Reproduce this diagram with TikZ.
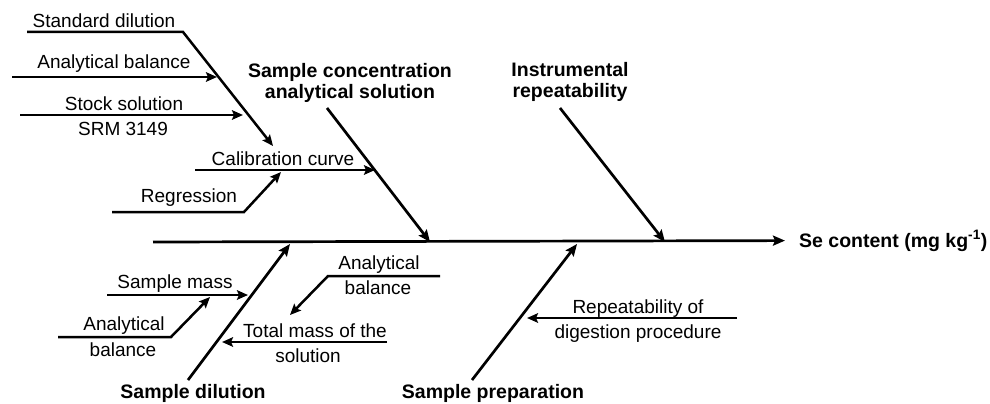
\documentclass[tikz,border=0pt]{standalone}
\usepackage{fontspec}
\setmainfont{Liberation Sans}
\usetikzlibrary{arrows.meta}
\tikzset{%
	cause/.style    = {inner sep=0pt, font=\fontsize{19}{22}\selectfont},
	effect/.style   = {inner sep=0pt, align=center,
		font=\fontsize{19.5}{21}\selectfont\bfseries}, % main causes
	bone/.style     = {line width=2.7pt, -{Stealth[length=12pt,width=10pt,inset=2pt]}},
	twig/.style     = {line width=2.5pt, -{Stealth[length=11pt,width=9.5pt,inset=2pt]}}
}

\begin{document}
\begin{tikzpicture}[x=1pt,y=-1pt]
	\useasboundingbox (0,0) rectangle (990,404);

	% main causes and effect
	\node[effect] (conc) at (350,83) {Sample concentration\\analytical solution};
	\node[effect] (instr) at (570,82) {Instrumental\\repeatability};
	\node[effect, anchor=base] (dil) at (193,398) {Sample dilution};
	\node[effect, anchor=base] (prep) at (493,398) {Sample preparation};
	\node[effect, anchor=base west] (se) at (799,247) {Se content (mg kg\textsuperscript{-1})};

	% sub causes
	\node[cause, anchor=base] (sdil) at (104,28) {Standard dilution};
	\node[cause, anchor=base] (abal) at (114,68) {Analytical balance};
	\node[cause, anchor=base] (stockA) at (124,110) {Stock solution};
	\node[cause, anchor=base] (stockB) at (123,135) {SRM 3149};
	\node[cause, anchor=base] (calib) at (283,165) {Calibration curve};
	\node[cause, anchor=base] (regr) at (189,202) {Regression};
	\node[cause, anchor=base] (smass) at (175,288) {Sample mass};
	\node[cause, anchor=base] (balA) at (124,330) {Analytical};
	\node[cause, anchor=base] (balB) at (123,356) {balance};
	\node[cause, anchor=base] (tmassA) at (315,337) {Total mass of the};
	\node[cause, anchor=base] (tmassB) at (308,362) {solution};
	\node[cause, anchor=base] (bal2A) at (379,269) {Analytical};
	\node[cause, anchor=base] (bal2B) at (378,294) {balance};
	\node[cause, anchor=base] (repA) at (638,313) {Repeatability of};
	\node[cause, anchor=base] (repB) at (638,338) {digestion procedure};

	% spine and bones
	\coordinate (tail) at (153,242);
	\coordinate (concS) at (327,108);  \coordinate (concE) at (430,242);
	\coordinate (instrS) at (560,108); \coordinate (instrE) at (665,242);
	\coordinate (dilS) at (188,380);   \coordinate (dilE) at (290,244);
	\coordinate (prepS) at (472,380);  \coordinate (prepE) at (577,244);
	\draw[bone] (tail) -- ([xshift=-14pt]se.west);
	\draw[bone] (concS) -- (concE);
	\draw[bone] (instrS) -- (instrE);
	\draw[bone] (dilS) -- (dilE);
	\draw[bone] (prepS) -- (prepE);

	% twigs
	\coordinate (sd0) at (27,32);   \coordinate (sd1) at (183,32);  \coordinate (sd2) at (273,146);
	\coordinate (ab0) at (12,77);   \coordinate (ab1) at (217,77);
	\coordinate (st0) at (20,115);  \coordinate (st1) at (243,115);
	\coordinate (cc0) at (195,170); \coordinate (cc1) at (375,170);
	\coordinate (rg0) at (112,212); \coordinate (rg1) at (244,212); \coordinate (rg2) at (281,172);
	\coordinate (sm0) at (107,295); \coordinate (sm1) at (248,295);
	\coordinate (ba0) at (58,337);  \coordinate (ba1) at (171,337); \coordinate (ba2) at (210,297);
	\coordinate (tm0) at (387,342); \coordinate (tm1) at (222,342);
	\coordinate (bb0) at (440,276); \coordinate (bb1) at (328,276); \coordinate (bb2) at (290,315);
	\coordinate (rp0) at (737,318); \coordinate (rp1) at (527,318);
	\draw[twig] (sd0) -- (sd1) -- (sd2);
	\draw[twig] (ab0) -- (ab1);
	\draw[twig] (st0) -- (st1);
	\draw[twig] (cc0) -- (cc1);
	\draw[twig] (rg0) -- (rg1) -- (rg2);
	\draw[twig] (sm0) -- (sm1);
	\draw[twig] (ba0) -- (ba1) -- (ba2);
	\draw[twig] (tm0) -- (tm1);
	\draw[twig] (bb0) -- (bb1) -- (bb2);
	\draw[twig] (rp0) -- (rp1);
\end{tikzpicture}
\end{document}
